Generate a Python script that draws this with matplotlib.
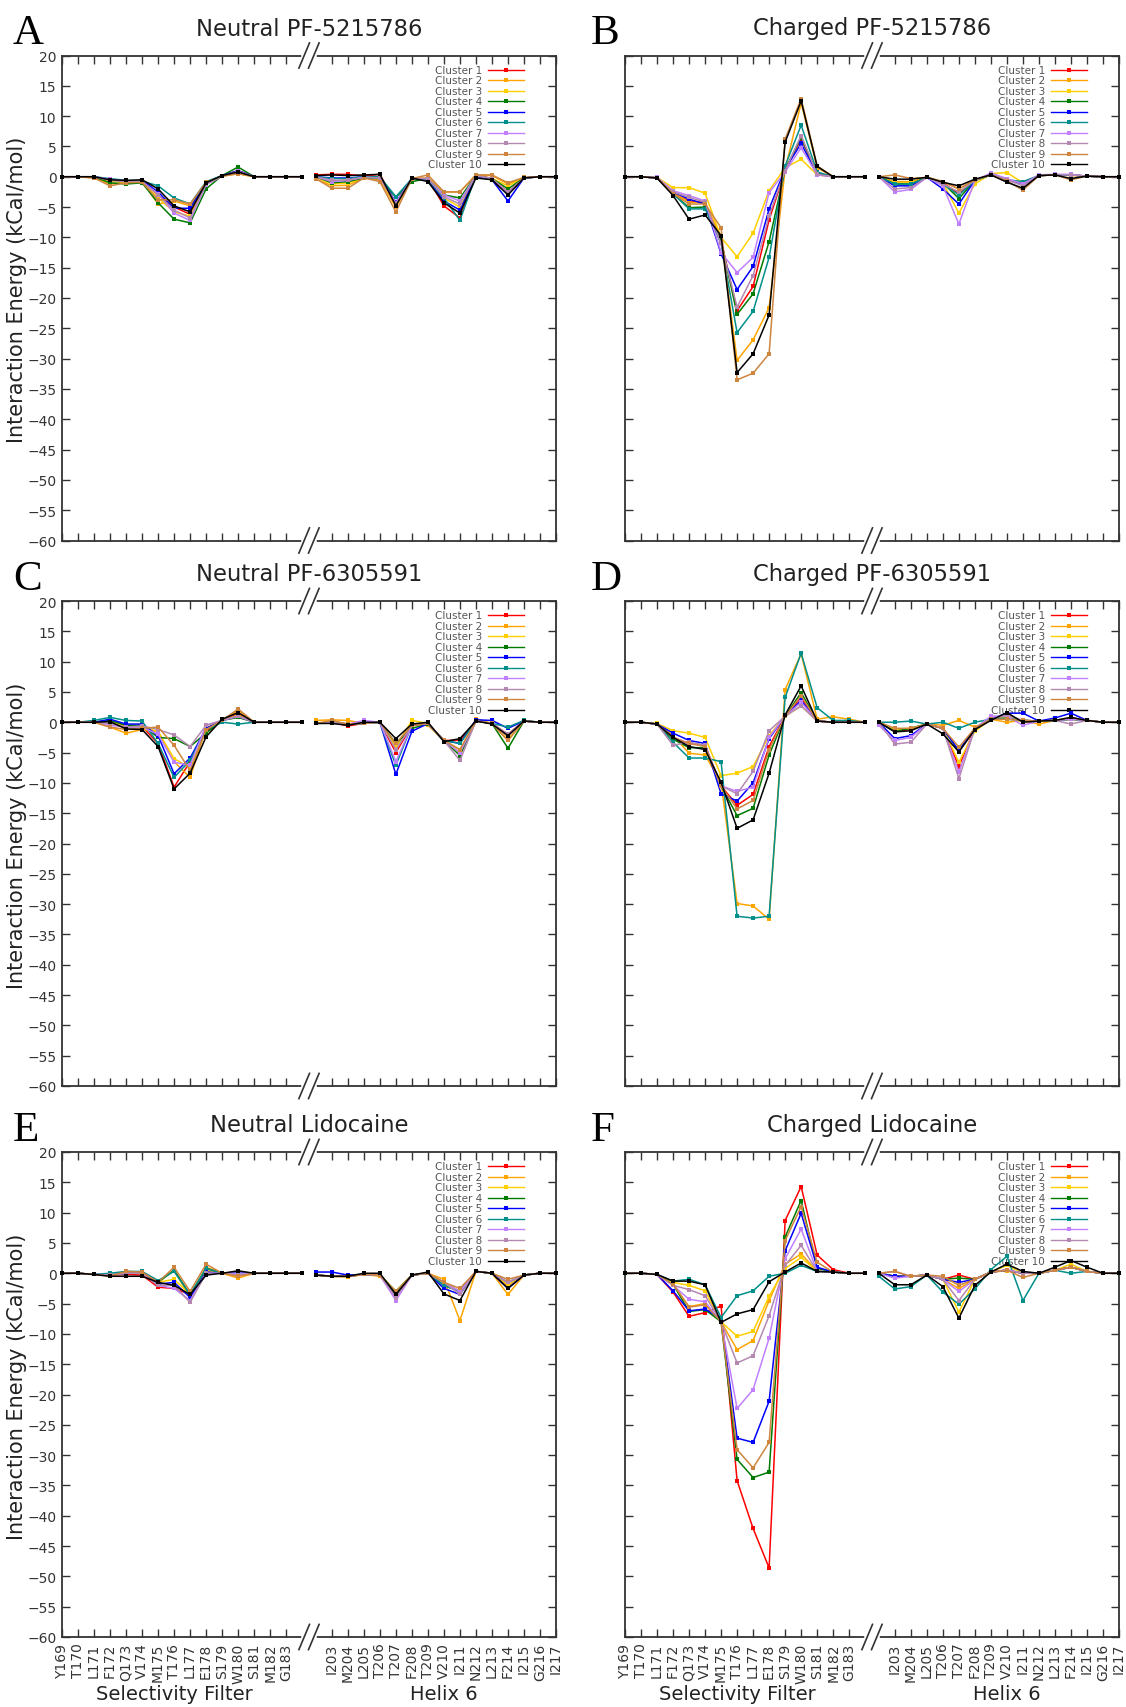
import matplotlib.pyplot as plt
from matplotlib.transforms import blended_transform_factory
import numpy as np

# residues on the broken x axis
sf_res = np.arange(169, 185)   # selectivity filter part (184 unlabeled)
h6_res = np.arange(202, 218)   # helix 6 part (202 unlabeled)
sf_labels = ["Y169", "T170", "L171", "F172", "Q173", "V174", "M175", "T176",
             "L177", "E178", "S179", "W180", "S181", "M182", "G183"]
h6_labels = ["I203", "M204", "L205", "T206", "T207", "F208", "T209", "V210",
             "I211", "N212", "L213", "F214", "I215", "G216", "I217"]

clusters = ["Cluster %d" % i for i in range(1, 11)]
colors = ["#ff0000", "#ffa500", "#ffd000", "#007a00", "#0000ff",
          "#008f8a", "#c080ff", "#b488b0", "#cd853f", "#000000"]

# ---- Neutral PF-5215786
A_sf = [
    [0, 0, 0, -0.6, -0.8, -0.7, -3.0, -5.0, -6.2, -1.2, 0.2, 1.0, 0, 0, 0, 0],
    [0, 0, -0.2, -1.2, -0.9, -0.8, -4.5, -4.0, -4.8, -1.0, 0.1, 0.5, 0, 0, 0, 0],
    [0, 0, 0, -0.8, -0.8, -0.8, -3.5, -5.8, -6.5, -1.2, 0.2, 0.9, 0, 0, 0, 0],
    [0, 0, 0, -1.0, -1.2, -1.0, -4.3, -7.0, -7.6, -2.0, 0.2, 1.6, 0, 0, 0, 0],
    [0, 0, 0, -0.5, -0.7, -0.6, -2.5, -5.2, -5.2, -1.0, 0.2, 1.0, 0, 0, 0, 0],
    [0, 0, 0, -0.3, -0.6, -0.7, -1.5, -3.5, -4.5, -0.8, 0.2, 0.8, 0, 0, 0, 0],
    [0, 0, 0, -0.4, -0.7, -0.8, -2.8, -6.0, -7.2, -1.3, 0.1, 0.9, 0, 0, 0, 0],
    [0, 0, 0, -0.6, -0.8, -0.8, -3.0, -5.5, -6.8, -1.2, 0.1, 0.8, 0, 0, 0, 0],
    [0, 0, -0.2, -1.5, -1.0, -0.9, -3.8, -3.8, -4.5, -0.9, 0.1, 0.5, 0, 0, 0, 0],
    [0, 0, 0, -0.5, -0.6, -0.5, -2.0, -4.8, -5.8, -1.0, 0.2, 0.8, 0, 0, 0, 0],
]
A_h6 = [
    [0.3, 0.4, 0.4, 0.1, 0.4, -4.5, -0.3, -0.3, -4.8, -6.8, 0.3, -0.3, -2.5, -0.2, 0, 0],
    [-0.3, -1.5, -1.4, -0.2, -0.5, -5.0, -0.3, -0.2, -2.5, -2.5, 0.3, 0.2, -1.2, -0.2, 0, 0],
    [0, -1.2, -1.0, -0.2, -0.3, -4.5, -0.3, -0.3, -3.5, -5.0, 0.2, -0.3, -1.5, -0.2, 0, 0],
    [0, -1.0, -0.8, -0.2, -0.3, -3.4, -0.8, -0.3, -3.0, -3.5, 0.2, -0.3, -2.0, -0.2, 0, 0],
    [0, -0.2, -0.2, 0, 0, -4.2, -0.3, -0.5, -4.0, -5.5, 0.1, -0.5, -4.0, -0.2, 0, 0],
    [0, -0.3, -0.3, 0, 0, -3.3, -0.3, -0.4, -3.5, -7.2, 0.2, -0.4, -2.8, -0.2, 0, 0],
    [0, -0.8, -0.6, -0.1, -0.2, -4.3, -0.3, -0.3, -3.0, -4.0, 0.2, -0.3, -2.8, -0.2, 0, 0],
    [0, -0.6, -0.5, -0.1, -0.2, -4.5, -0.3, -0.3, -3.3, -4.5, 0.2, -0.3, -2.5, -0.2, 0, 0],
    [-0.3, -1.9, -1.9, -0.2, -0.8, -5.8, -0.3, 0.3, -2.5, -2.5, 0.3, 0.3, -1.0, -0.1, 0, 0],
    [0.2, 0.3, 0.2, 0.3, 0.4, -4.8, -0.2, -0.8, -4.3, -6.0, -0.2, -0.5, -3.0, -0.2, 0, 0],
]

# ---- Charged PF-5215786
B_sf = [
    [0, 0, -0.2, -2.7, -4.0, -4.2, -10.5, -22.1, -18.1, -7.1, 1.0, 6.3, 0.5, 0, 0, 0],
    [0, 0, -0.2, -2.5, -4.2, -4.3, -10.0, -30.3, -26.9, -21.6, 1.2, 12.2, 1.5, 0, 0, 0],
    [0, 0, -0.1, -1.8, -1.8, -2.7, -10.0, -13.2, -9.3, -2.3, 1.5, 2.9, 0.3, 0, 0, 0],
    [0, 0, -0.2, -2.8, -5.1, -5.0, -10.5, -22.7, -19.3, -10.7, 1.2, 6.5, 0.5, 0, 0, 0],
    [0, 0, -0.2, -2.5, -3.7, -4.5, -12.7, -18.6, -14.8, -5.3, 1.3, 5.5, 0.4, 0, 0, 0],
    [0, 0, -0.2, -2.8, -5.3, -5.3, -11.0, -25.7, -22.2, -13.3, 1.8, 8.5, 0.8, 0, 0, 0],
    [0, 0, -0.1, -2.3, -3.1, -4.0, -12.5, -15.8, -13.3, -2.6, 0.8, 4.8, 0.3, 0, 0, 0],
    [0, 0, -0.2, -2.5, -3.4, -4.2, -11.0, -21.5, -16.3, -6.4, 1.0, 6.8, 0.4, 0, 0, 0],
    [0, 0, -0.2, -2.8, -4.5, -4.5, -8.4, -33.5, -32.4, -29.2, 6.2, 12.9, 1.8, 0, 0, 0],
    [0, 0, -0.2, -3.1, -7.0, -6.3, -9.7, -32.3, -29.2, -22.8, 5.7, 12.5, 1.7, 0, 0, 0],
]
B_h6 = [
    [0, -1.0, -1.0, -0.1, -1.0, -2.8, -0.6, 0.3, -0.5, -1.2, 0.2, 0.3, 0.3, 0.1, 0, 0],
    [0, -0.8, -0.8, -0.1, -0.8, -2.0, -0.6, 0.3, -0.5, -1.2, 0.2, 0.3, 0.2, 0.1, 0, 0],
    [0, -1.0, -1.0, -0.1, -1.0, -6.0, -1.2, 0.5, 0.7, -1.0, 0.2, 0.3, 0.3, 0.1, 0, 0],
    [0, -1.2, -1.2, -0.1, -1.0, -3.6, -0.6, 0.3, -0.5, -1.2, 0.2, 0.3, 0.3, 0.1, 0, 0],
    [0, -1.5, -1.5, -0.1, -2.0, -4.5, -0.6, 0.4, -0.5, -1.2, 0.2, 0.3, 0.3, 0.1, 0, 0],
    [0, -1.2, -1.2, -0.1, -1.2, -3.0, -0.6, 0.3, -0.5, -0.8, 0.2, 0.3, 0.3, 0.1, 0, 0],
    [0, -2.5, -2.1, -0.1, -1.5, -7.8, -0.6, 0.6, -0.3, -1.2, 0.3, 0.4, 0.4, 0.1, 0, 0],
    [0, -2.0, -1.8, -0.1, -1.2, -2.5, -0.6, 0.4, -0.5, -1.5, 0.2, 0.3, 0.3, 0.1, 0, 0],
    [0, 0.3, -0.3, -0.1, -0.8, -2.0, -0.5, 0.3, -0.7, -2.2, 0.2, 0.3, -0.5, 0.1, 0, 0],
    [0, -0.4, -0.4, -0.1, -0.9, -1.5, -0.4, 0.3, -0.9, -1.9, 0.2, 0.3, -0.3, 0.1, 0, 0],
]

# ---- Neutral PF-6305591
C_sf = [
    [0, 0, 0, 0.2, -0.8, -0.7, -3.5, -10.7, -6.5, -1.5, 0.3, 1.4, 0, 0, 0, 0],
    [0, 0, 0, -0.8, -1.8, -1.2, -1.5, -6.5, -9.1, -1.0, 0.3, 2.0, 0, 0, 0, 0],
    [0, 0, 0, 0.2, -0.8, -0.8, -1.5, -6.0, -7.5, -1.0, 0.3, 1.2, 0, 0, 0, 0],
    [0, 0, 0, 0.3, -0.5, -0.5, -2.5, -2.7, -4.0, -1.8, 0.3, 0.8, 0, 0, 0, 0],
    [0, 0, 0, 0.5, -0.3, -0.3, -2.2, -8.5, -5.9, -1.0, 0.3, 1.0, 0, 0, 0, 0],
    [0, 0, 0.3, 0.8, 0.3, 0.2, -3.5, -9.1, -6.3, -1.2, 0.0, -0.3, 0, 0, 0, 0],
    [0, 0, 0, -0.5, -0.8, -0.8, -2.0, -6.6, -7.1, -0.5, 0.3, 1.0, 0, 0, 0, 0],
    [0, 0, 0, -0.2, -0.8, -0.6, -1.2, -2.1, -4.0, -0.5, 0.3, 1.0, 0, 0, 0, 0],
    [0, 0, 0, -0.8, -1.2, -1.0, -0.8, -3.8, -8.0, -1.2, 0.3, 2.2, 0, 0, 0, 0],
    [0, 0, 0, 0.1, -1.1, -1.2, -4.0, -11.0, -8.4, -2.4, 0.5, 1.6, 0, 0, 0, 0],
]
C_h6 = [
    [-0.2, 0, -0.6, -0.2, 0, -5.0, -0.5, -0.2, -3.0, -3.0, 0.2, -0.2, -2.0, 0.2, 0, 0],
    [0.3, 0.4, 0.3, -0.2, 0, -4.0, -0.5, -0.5, -3.0, -5.0, 0.6, -0.2, -3.0, 0.2, 0, 0],
    [-0.2, 0, -0.3, -0.2, 0, -4.0, 0.3, -0.2, -3.0, -4.5, 0.2, -0.2, -2.5, 0.2, 0, 0],
    [-0.2, 0, -0.3, -0.2, 0, -3.5, -1.0, -0.3, -3.0, -5.5, 0.2, -0.2, -4.3, 0.2, 0, 0],
    [-0.2, 0, -0.3, -0.2, 0, -8.6, -1.5, -0.2, -3.0, -3.5, 0.4, 0.3, -1.0, 0.2, 0, 0],
    [-0.2, 0, -0.3, -0.2, 0, -7.1, -0.5, -0.2, -3.0, -3.5, 0.2, -0.2, -0.8, 0.3, 0, 0],
    [-0.2, 0, -0.3, 0.3, 0, -6.5, -0.5, -0.2, -3.0, -5.0, 0.2, -0.2, -2.3, 0.2, 0, 0],
    [-0.2, 0, -0.3, -0.2, 0, -4.5, -0.5, -0.2, -3.0, -6.3, 0.2, -0.2, -2.0, 0.2, 0, 0],
    [-0.2, 0.3, -0.3, -0.2, 0, -3.5, -0.5, -0.2, -3.0, -4.5, 0.2, -0.2, -3.0, 0.2, 0, 0],
    [-0.2, -0.2, -0.5, 0, 0, -2.7, -0.3, 0, -3.2, -2.7, 0.2, -0.3, -2.2, 0.2, 0, 0],
]

# ---- Charged PF-6305591
D_sf = [
    [0, 0, -0.3, -2.5, -3.5, -3.8, -10.5, -13.7, -11.9, -4.0, 1.0, 4.1, 0.2, 0, 0, 0],
    [0, 0, -0.3, -2.2, -5.1, -5.4, -10.0, -29.9, -30.3, -32.5, 5.4, 11.3, 0.5, 0.9, 0.5, 0],
    [0, 0, -0.2, -1.4, -1.8, -2.5, -8.8, -8.4, -7.3, -2.2, 1.0, 2.7, 0.2, 0, 0, 0],
    [0, 0, -0.3, -2.8, -4.2, -4.2, -10.5, -15.4, -14.2, -5.4, 1.0, 4.9, 0.2, 0, 0, 0],
    [0, 0, -0.3, -1.8, -3.0, -3.5, -11.8, -13.0, -10.0, -2.7, 1.0, 3.6, 0.2, 0, 0, 0],
    [0, 0, -0.3, -3.3, -5.9, -5.9, -6.5, -32.0, -32.3, -32.0, 4.1, 11.4, 2.4, 0.3, 0.3, 0],
    [0, 0, -0.3, -2.5, -3.5, -3.8, -10.5, -11.4, -10.7, -2.5, 1.0, 3.3, 0.2, 0, 0, 0],
    [0, 0, -0.3, -3.8, -3.3, -3.8, -10.5, -11.8, -8.1, -1.4, 1.0, 2.7, 0.2, 0, 0, 0],
    [0, 0, -0.3, -2.5, -3.5, -4.0, -10.5, -14.3, -12.9, -4.5, 1.0, 4.4, 0.2, 0, 0, 0],
    [0, 0, -0.3, -2.5, -4.0, -4.5, -9.9, -17.5, -16.1, -8.4, 1.2, 6.0, 0.2, 0, 0, 0],
]
D_h6 = [
    [0, -1.5, -1.2, -0.3, -1.0, -7.3, -1.0, 0.5, 0.8, 0.3, 0.2, 0.3, 0.5, 0.3, 0, 0],
    [0, -1.2, -1.0, -0.3, -0.5, 0.3, -0.8, 0.5, 0.0, 0.3, -0.3, 0.3, 0.5, 0.3, 0, 0],
    [0, -1.2, -1.0, -0.3, -1.0, -6.6, -1.5, 0.5, 0.8, 0.3, 0.2, 0.3, 0.5, 0.3, 0, 0],
    [0, -1.5, -1.0, -0.3, -1.0, -4.7, -1.0, 0.5, 0.5, 0.3, 0.2, 0.3, 0.5, 0.3, 0, 0],
    [0, -2.7, -2.2, -0.3, -1.0, -4.7, -1.0, 0.5, 1.5, 1.5, 0.2, 0.7, 1.5, 0.3, 0, 0],
    [0, 0, 0.2, -0.3, 0, -1.0, 0, 0.5, 0.7, 0.3, 0.2, 0.3, 0.5, 0.3, 0, 0],
    [-0.5, -3.0, -2.5, -0.3, -1.0, -8.2, -1.0, 1.0, 1.0, -0.5, 0.2, 0.3, 0.5, 0.3, 0, 0],
    [0, -3.6, -3.3, -0.3, -1.0, -9.3, -1.0, 0.5, 1.2, 0.3, 0.2, 0.3, -0.3, 0.3, 0, 0],
    [0, -1.0, -1.0, -0.3, -1.0, -4.1, -1.0, 0.5, 0.5, 0.3, 0.2, 0.3, 0.8, 0.3, 0, 0],
    [0, -1.6, -1.4, -0.3, -1.9, -4.9, -1.2, 0.3, 1.6, 0.0, 0.2, 0.3, 0.8, 0.3, 0, 0],
]

# ---- Neutral Lidocaine
E_sf = [
    [0, 0, -0.2, -0.3, -0.2, -0.3, -2.3, -2.5, -3.5, 0.2, 0, 0, 0, 0, 0, 0],
    [0, 0, -0.2, -0.3, 0.3, 0.2, -1.5, 0.5, -4.0, 1.0, 0, -0.8, 0, 0, 0, 0],
    [0, 0, -0.2, -0.3, 0.2, 0.1, -1.5, -1.0, -3.5, 0.5, 0, 0, 0, 0, 0, 0],
    [0, 0, -0.2, -0.3, 0, 0, -1.5, 0.5, -3.5, 0.8, 0, 0, 0, 0, 0, 0],
    [0, 0, -0.2, -0.3, 0, 0, -1.8, -1.5, -4.0, 0.2, 0, 0.2, 0, 0, 0, 0],
    [0, 0, -0.2, 0, 0.3, 0.3, -1.2, 0.3, -3.5, 0.8, 0, 0, 0, 0, 0, 0],
    [0, 0, -0.2, -0.3, 0, 0, -2.0, -2.5, -4.5, 0, 0, 0, 0, 0, 0, 0],
    [0, 0, -0.2, -0.3, 0, 0, -2.0, -2.0, -4.8, 0, 0, -0.3, 0, 0, 0, 0],
    [0, 0, -0.2, -0.5, 0.3, 0.2, -1.5, 1.0, -3.0, 1.5, 0, -0.5, 0, 0, 0, 0],
    [0, 0, -0.2, -0.5, -0.5, -0.5, -1.5, -2.0, -3.5, -0.3, 0, 0.4, 0, 0, 0, 0],
]
E_h6 = [
    [-0.3, -0.5, -0.5, -0.2, -0.3, -3.5, -0.3, 0, -1.5, -3.0, 0.3, 0, -2.0, -0.3, 0, 0],
    [-0.3, -0.5, -0.6, -0.2, -0.5, -3.5, -0.3, 0, -1.0, -7.8, 0.3, 0, -3.5, -0.3, 0, 0],
    [-0.3, -0.5, -0.5, -0.2, -0.3, -3.0, -0.3, 0, -1.5, -3.0, 0.3, 0, -2.0, -0.3, 0, 0],
    [-0.3, -0.5, -0.5, -0.2, -0.3, -3.0, -0.3, 0, -2.0, -3.0, 0.3, 0, -1.5, -0.3, 0, 0],
    [0.2, 0.2, -0.3, -0.2, -0.3, -3.5, -0.3, 0, -2.5, -3.5, 0.3, 0, -2.5, -0.3, 0, 0],
    [-0.3, -0.5, -0.5, -0.2, -0.3, -3.5, -0.3, 0, -2.0, -3.0, 0.3, 0, -1.5, -0.3, 0, 0],
    [-0.3, -0.5, -0.5, -0.2, -0.3, -4.5, -0.3, 0, -1.5, -3.0, 0.3, 0, -1.5, -0.3, 0, 0],
    [-0.3, -0.5, -0.5, -0.2, -0.3, -4.0, -0.3, 0, -1.5, -3.5, 0.3, 0, -1.5, -0.3, 0, 0],
    [-0.3, -0.5, -0.5, -0.2, -0.3, -3.0, -0.3, 0, -1.5, -2.5, 0.3, 0, -1.0, -0.3, 0, 0],
    [-0.3, -0.5, -0.5, 0, 0, -3.5, -0.3, 0.2, -3.4, -4.5, 0.3, 0, -2.5, -0.3, 0, 0],
]

# ---- Charged Lidocaine
F_sf = [
    [0, 0, -0.2, -3.1, -7.1, -6.5, -5.4, -34.2, -42.1, -48.6, 8.7, 14.3, 3.0, 0.6, 0, 0],
    [0, 0, -0.2, -1.8, -5.5, -5.0, -8.0, -12.6, -11.1, -4.5, 1.5, 3.2, 0.3, 0.2, 0, 0],
    [0, 0, -0.2, -1.5, -2.0, -2.9, -8.0, -10.4, -9.6, -3.8, 0.8, 2.6, 0.3, 0.2, 0, 0],
    [0, 0, -0.2, -1.8, -6.3, -6.0, -8.0, -30.7, -33.7, -32.8, 6.0, 12.0, 0.8, 0.2, 0, 0],
    [0, 0, -0.2, -2.9, -6.2, -5.9, -7.5, -27.2, -27.9, -21.1, 3.7, 9.9, 1.0, 0.2, 0, 0],
    [0, 0, -0.2, -1.3, -1.0, -1.9, -7.3, -3.7, -2.9, -0.5, 0, 1.3, 0.3, 0.2, 0, 0],
    [0, 0, -0.2, -2.0, -4.3, -4.7, -8.0, -22.3, -19.2, -10.7, 2.4, 7.3, 0.3, 0.2, 0, 0],
    [0, 0, -0.2, -2.0, -2.7, -3.7, -8.0, -14.8, -13.6, -7.0, 1.3, 4.6, 0.3, 0.2, 0, 0],
    [0, 0, -0.2, -1.8, -5.6, -5.2, -8.0, -29.1, -32.1, -27.9, 5.4, 11.0, 1.8, 0.2, 0, 0],
    [0, 0, -0.2, -1.3, -1.3, -1.9, -8.1, -6.7, -6.0, -1.4, 0.2, 1.7, 0.3, 0.2, 0, 0],
]
F_h6 = [
    [0, -0.5, -0.5, -0.3, -1.0, -0.3, -1.0, 0.2, 0.5, 0, 0, 0.5, 1.0, 0.3, 0, 0],
    [0, -0.5, -0.5, -0.3, -1.0, -2.5, -1.0, 0.2, 0.4, 0, 0, 0.5, 1.0, 0.3, 0, 0],
    [0, -0.5, -0.5, -0.3, -1.0, -6.4, -1.0, 0.2, 1.3, 0, 0, 0.5, 1.5, 0.3, 0, 0],
    [0, -0.5, -0.5, -0.3, -1.0, -0.8, -1.0, 0.2, 0.5, 0, 0, 0.5, 1.0, 0.3, 0, 0],
    [0, -0.5, -0.5, -0.3, -1.0, -1.5, -1.0, 0.2, 0.5, 0, 0, 0.5, 1.0, 0.3, 0, 0],
    [-0.5, -2.6, -2.2, -0.3, -3.1, -5.1, -2.6, 0.6, 2.8, -4.5, 0, 0.5, 0, 0.3, 0, 0],
    [0, -0.8, -0.5, -0.3, -1.0, -3.0, -1.0, 0.2, 0.6, 0, 0, 0.5, 1.0, 0.3, 0, 0],
    [0, 0.3, -0.5, -0.3, -1.0, -4.5, -1.0, 0.2, 0.5, 0, 0, 0.5, 1.0, 0.3, 0, 0],
    [0, 0.3, -0.5, -0.3, -0.5, -2.0, -1.0, 0.2, 0.5, -0.7, 0, 0.5, 1.0, 0.3, 0, 0],
    [0, -1.9, -1.9, -0.3, -2.2, -7.4, -2.0, 0.2, 1.5, 0.3, 0, 1.0, 2.1, 1.0, 0, 0],
]

panels = [
    ("A", "Neutral PF-5215786", A_sf, A_h6),
    ("B", "Charged PF-5215786", B_sf, B_h6),
    ("C", "Neutral PF-6305591", C_sf, C_h6),
    ("D", "Charged PF-6305591", D_sf, D_h6),
    ("E", "Neutral Lidocaine", E_sf, E_h6),
    ("F", "Charged Lidocaine", F_sf, F_h6),
]

# broken axis: helix 6 part shifted to sit right after the filter part
gap = 0.85
sf_pos = sf_res - sf_res[0]
h6_pos = h6_res - h6_res[0] + sf_pos[-1] + gap
brk = (sf_pos[-1] + h6_pos[0]) / 2

W, H = 1126, 1708
fig = plt.figure(figsize=(W / 100, H / 100), dpi=100)
lefts = [62 / W, 625 / W]
tops = [56.5, 602, 1153]
aw, ah = 494, 485
frame = "#333333"

for n, (letter, title, sf, h6) in enumerate(panels):
    row, col = n // 2, n % 2
    ax = fig.add_axes([lefts[col], (H - tops[row] - ah) / H, aw / W, ah / H])

    for i in range(10):
        for xs, ys in ((sf_pos, sf[i]), (h6_pos, h6[i])):
            ax.plot(xs, ys, color=colors[i], lw=1.1, marker="s", ms=3.4,
                    mew=0, clip_on=False, zorder=3 + i * 0.01)

    ax.set_xlim(0, h6_pos[-1])
    ax.set_ylim(-60, 20)
    ax.set_yticks(np.arange(-60, 21, 5))
    ax.set_xticks(list(sf_pos[:15]) + list(h6_pos[1:]))
    ax.tick_params(direction="in", length=6, width=1, top=True, right=True,
                   colors=frame, labelsize=10, pad=4)
    for s in ax.spines.values():
        s.set_color(frame)
        s.set_linewidth(1.3)

    if col == 1:
        ax.set_yticklabels([])
    if row < 2:
        ax.set_xticklabels([])
    else:
        ax.set_xticklabels(sf_labels + h6_labels, rotation=90, fontsize=10)
        tr = blended_transform_factory(ax.transData, ax.transAxes)
        ax.text(np.mean(sf_pos[:15]), -0.116, "Selectivity Filter", transform=tr,
                ha="center", va="center", fontsize=14, color="#222")
        ax.text(np.mean(h6_pos[1:]), -0.116, "Helix 6", transform=tr,
                ha="center", va="center", fontsize=14, color="#222")

    # axis break marks
    tr = blended_transform_factory(ax.transData, ax.transAxes)
    for yy in (0, 1):
        ax.plot([brk - 0.3, brk + 0.3], [yy, yy], color="white", lw=4,
                transform=tr, clip_on=False, zorder=10)
        for xc in (brk - 0.3, brk + 0.3):
            ax.plot([xc - 0.33, xc + 0.33], [yy - 0.026, yy + 0.026],
                    color=frame, lw=1.2, transform=tr, clip_on=False, zorder=11)

    # legend, gnuplot style (text right-justified, sample on the right)
    for i in range(10):
        yy = 0.971 - i * 0.0217
        ax.text(0.85, yy, clusters[i], transform=ax.transAxes, ha="right",
                va="center", fontsize=7.5, color="#555555")
        ax.plot([0.863, 0.935], [yy, yy], color=colors[i], lw=1,
                transform=ax.transAxes)
        ax.plot([0.899], [yy], color=colors[i], marker="s", ms=3.3, mew=0,
                transform=ax.transAxes)

    ax.text(0.5, 1 + 27.5 / ah, title, transform=ax.transAxes, ha="center",
            va="center", fontsize=16.3, color="#222")

    fig.text((13 if col == 0 else 591) / W, (H - tops[row] + 12) / H, letter,
             family="Liberation Serif", fontsize=31, va="baseline")

    if col == 0:
        fig.text(17 / W, (H - tops[row] - ah / 2 + 9) / H,
                 "Interaction Energy (kCal/mol)", rotation=90, ha="center",
                 va="center", fontsize=15, color="#222")

fig.savefig("out.png", dpi=100)
